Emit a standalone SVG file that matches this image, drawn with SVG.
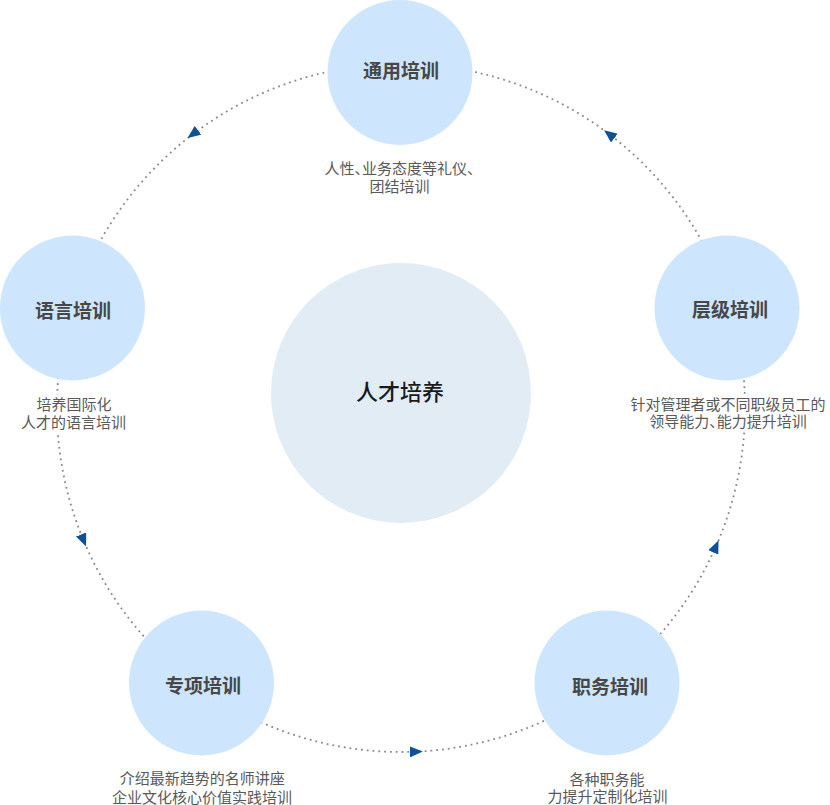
<svg xmlns="http://www.w3.org/2000/svg" width="830" height="805" viewBox="0 0 830 805">
  <style>
    .ring{fill:none;stroke:#888888;stroke-width:1.8;stroke-dasharray:1.8 4;marker-mid:url(#arrow);}
    .node{fill:#cde6fd;}
    .core{fill:#e2ecf5;}
    .title{font-family:"Noto Sans CJK SC","Noto Sans",sans-serif;font-size:19px;font-weight:bold;fill:#474747;text-anchor:middle;}
    .coretitle{font-family:"Noto Sans CJK SC","Noto Sans",sans-serif;font-size:22px;font-weight:500;fill:#1a1a1a;text-anchor:middle;}
    .desc{font-family:"Noto Sans CJK SC","Noto Sans",sans-serif;font-size:15px;font-weight:normal;fill:#595959;text-anchor:middle;font-feature-settings:"halt" 1;}
    .bg{fill:#ffffff;}
  </style>
  <defs>
    <marker id="arrow" markerUnits="userSpaceOnUse" markerWidth="13" markerHeight="11" refX="5" refY="5.5" orient="auto" viewBox="0 0 13 11">
      <path d="M0,0 L13,5.5 L0,11 Z" fill="#0d5196"/>
    </marker>
  </defs>
  <rect width="830" height="805" fill="#ffffff"/>

  <g id="connectors">
    <path id="c-cengji-tongyong" class="ring" d="M707.5,251.8 A344,344 0 0 0 610.4,135.1 A344,344 0 0 0 460.7,69.2"/>
    <path id="c-zhiwu-cengji" class="ring" d="M648.4,647.0 A344,344 0 0 0 715.3,547.9 A344,344 0 0 0 741.7,360.1"/>
    <path id="c-zhuanxiang-zhiwu" class="ring" d="M250.2,717.2 A344,344 0 0 0 414.8,751.7 A344,344 0 0 0 557.2,714.5"/>
    <path id="c-yuyan-zhuanxiang" class="ring" d="M60.3,360.1 A344,344 0 0 0 83.0,539.1 A344,344 0 0 0 153.6,647.0"/>
    <path id="c-tongyong-yuyan" class="ring" d="M341.3,69.2 A344,344 0 0 0 194.0,133.3 A344,344 0 0 0 94.5,251.8"/>
  </g>

  <g id="center">
    <circle class="core" cx="401" cy="393" r="130"/>
    <text class="coretitle" x="400" y="400">人才培养</text>
  </g>

  <g id="tongyong">
    <circle class="node" cx="400" cy="72.5" r="72.5"/>
    <text class="title" x="401" y="78">通用培训</text>
    <text class="desc" x="399.5" y="173.7">人性、业务态度等礼仪、</text>
    <text class="desc" x="399.5" y="191.7">团结培训</text>
  </g>

  <g id="cengji">
    <circle class="node" cx="727" cy="308" r="72.5"/>
    <text class="title" x="730" y="317">层级培训</text>
    <rect class="bg" x="626" y="395" width="204" height="37"/>
    <text class="desc" x="728" y="410.2">针对管理者或不同职级员工的</text>
    <text class="desc" x="728" y="427.4">领导能力、能力提升培训</text>
  </g>

  <g id="zhiwu">
    <circle class="node" cx="607" cy="683" r="72.5"/>
    <text class="title" x="610" y="694">职务培训</text>
    <text class="desc" x="607" y="784.7">各种职务能</text>
    <text class="desc" x="607.5" y="802.4">力提升定制化培训</text>
  </g>

  <g id="zhuanxiang">
    <circle class="node" cx="201.5" cy="683" r="72.5"/>
    <text class="title" x="203" y="693">专项培训</text>
    <text class="desc" x="202.3" y="783.7">介绍最新趋势的名师讲座</text>
    <text class="desc" x="202" y="802.5">企业文化核心价值实践培训</text>
  </g>

  <g id="yuyan">
    <circle class="node" cx="72.5" cy="308" r="72.5"/>
    <text class="title" x="73" y="317.7">语言培训</text>
    <rect class="bg" x="18" y="395" width="112" height="37"/>
    <text class="desc" x="74" y="410.2">培养国际化</text>
    <text class="desc" x="73.5" y="427.7">人才的语言培训</text>
  </g>
</svg>
